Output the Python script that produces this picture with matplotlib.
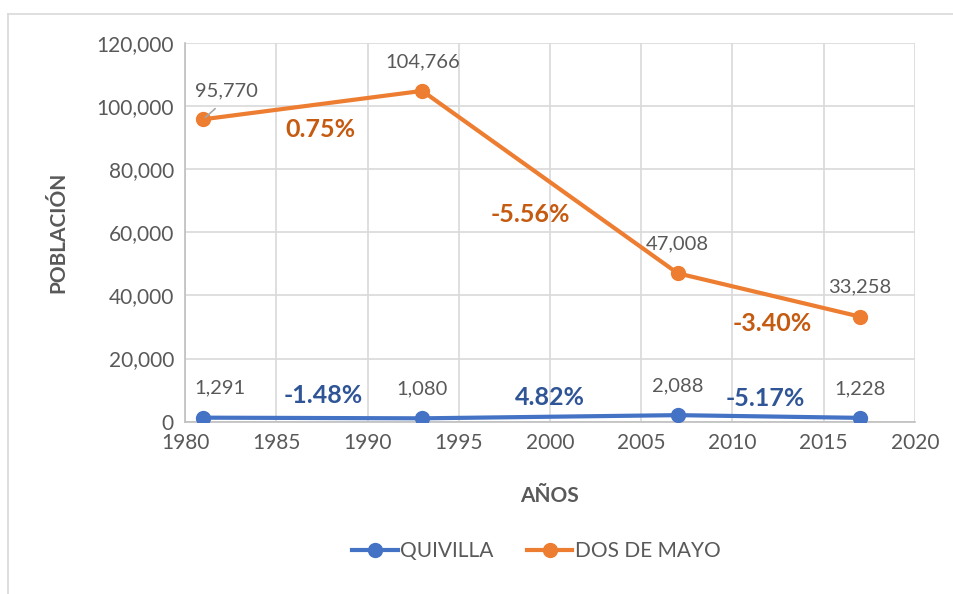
import matplotlib.pyplot as plt
from matplotlib.lines import Line2D
from matplotlib.ticker import FuncFormatter

plt.rcParams['font.family'] = ['Lato', 'DejaVu Sans']

# Data
years = [1981, 1993, 2007, 2017]
quivilla = [1291, 1080, 2088, 1228]
dos_de_mayo = [95770, 104766, 47008, 33258]

# growth rates between censuses (label text, x, y in data units)
quivilla_rates = ['-1.48%', '4.82%', '-5.17%']
quivilla_rate_x = [1987.6, 2000.0, 2011.8]
quivilla_rate_y = [8200, 7800, 7300]
dos_rates = ['0.75%', '-5.56%', '-3.40%']
dos_rate_x = [1987.4, 1998.9, 2012.2]
dos_rate_y = [92400, 65500, 31200]

blue = '#4472C4'
orange = '#ED7D31'
blue_dark = '#2F5597'
orange_dark = '#C55A11'
grey_txt = '#595959'
grid_col = '#D9D9D9'

fig = plt.figure(figsize=(9.54, 5.94), dpi=100)
ax = fig.add_axes([0.194, 0.290, 0.765, 0.638])

ax.plot(years, quivilla, color=blue, lw=3, marker='o', ms=10, label='QUIVILLA', zorder=3)
ax.plot(years, dos_de_mayo, color=orange, lw=3, marker='o', ms=10, label='DOS DE MAYO', zorder=3)

ax.set_xlim(1980, 2020)
ax.set_ylim(0, 120000)
ax.set_xticks(range(1980, 2021, 5))
ax.set_yticks(range(0, 120001, 20000))
ax.yaxis.set_major_formatter(FuncFormatter(lambda v, p: f'{int(v):,}'))
ax.grid(True, color=grid_col, lw=1.2)
ax.set_axisbelow(True)
for s in ['top', 'right']:
    ax.spines[s].set_visible(False)
for s in ['left', 'bottom']:
    ax.spines[s].set_color('#BFBFBF')
    ax.spines[s].set_linewidth(1.2)
ax.tick_params(length=0, labelsize=15, colors=grey_txt, pad=8)

ax.set_xlabel('AÑOS', fontsize=15, fontweight='bold', color=grey_txt, labelpad=24)
ax.set_ylabel('POBLACIÓN', fontsize=15, fontweight='bold', color=grey_txt, labelpad=20)

# value labels
quiv_offsets = [(12, 15), (0, 15), (0, 15), (0, 15)]
for (x, y), off in zip(zip(years, quivilla), quiv_offsets):
    ax.annotate(f'{y:,}', (x, y), xytext=off, textcoords='offset points',
                ha='center', va='bottom', fontsize=14.5, color=grey_txt)
dos_offsets = [(17, 14), (0, 15), (0, 15), (0, 15)]
for (x, y), off in zip(zip(years, dos_de_mayo), dos_offsets):
    ax.annotate(f'{y:,}', (x, y), xytext=off, textcoords='offset points',
                ha='center', va='bottom', fontsize=14.5, color=grey_txt)
ax.annotate('', (years[0], dos_de_mayo[0]), xytext=(10, 9), textcoords='offset points',
            arrowprops=dict(arrowstyle='-', color='#A6A6A6', lw=1.2))

for t, x, y in zip(quivilla_rates, quivilla_rate_x, quivilla_rate_y):
    ax.text(x, y, t, ha='center', va='center', fontsize=18, fontweight='bold', color=blue_dark)
for t, x, y in zip(dos_rates, dos_rate_x, dos_rate_y):
    ax.text(x, y, t, ha='center', va='center', fontsize=18, fontweight='bold', color=orange_dark)

handles = [Line2D([], [], color=blue, lw=3, marker='o', ms=10),
           Line2D([], [], color=orange, lw=3, marker='o', ms=10)]
fig.legend(handles, ['QUIVILLA', 'DOS DE MAYO'], loc='center', bbox_to_anchor=(0.562, 0.072),
           ncol=2, frameon=False, fontsize=15, labelcolor=grey_txt, handlelength=2.2,
           handletextpad=0.1, columnspacing=1.6)

# chart area border (left and top visible)
fig.add_artist(Line2D([0.0084, 0.0084], [0, 0.976], color=grid_col, lw=1.2))
fig.add_artist(Line2D([0.0084, 1], [0.976, 0.976], color=grid_col, lw=1.2))

fig.savefig('out.png', dpi=100, facecolor='white')
